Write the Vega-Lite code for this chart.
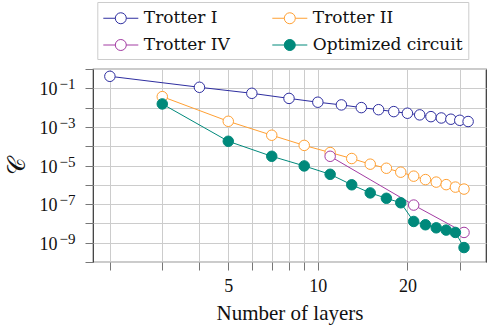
{
  "$schema": "https://vega.github.io/schema/vega-lite/v6.json",
  "width": 393,
  "height": 193,
  "autosize": {"type": "none"},
  "padding": {"left": 93, "top": 69, "right": 2, "bottom": 70},
  "background": "white",
  "config": {
    "view": {"stroke": "#333333", "strokeWidth": 1.2},
    "font": "Liberation Serif",
    "axis": {
      "labelFont": "Liberation Serif",
      "titleFont": "Liberation Serif",
      "labelColor": "#111",
      "titleColor": "#111",
      "gridColor": "#cccccc",
      "gridWidth": 1,
      "tickColor": "#777777",
      "tickSize": 8,
      "domain": false,
      "titleFontWeight": "normal"
    }
  },
  "data": {
    "values": [
      {"series": "Trotter I", "layers": 2, "c": 0.418},
      {"series": "Trotter I", "layers": 4, "c": 0.113},
      {"series": "Trotter I", "layers": 6, "c": 0.055},
      {"series": "Trotter I", "layers": 8, "c": 0.030},
      {"series": "Trotter I", "layers": 10, "c": 0.019},
      {"series": "Trotter I", "layers": 12, "c": 0.0138},
      {"series": "Trotter I", "layers": 14, "c": 0.0100},
      {"series": "Trotter I", "layers": 16, "c": 0.0078},
      {"series": "Trotter I", "layers": 18, "c": 0.0062},
      {"series": "Trotter I", "layers": 20, "c": 0.0051},
      {"series": "Trotter I", "layers": 22, "c": 0.0042},
      {"series": "Trotter I", "layers": 24, "c": 0.0034},
      {"series": "Trotter I", "layers": 26, "c": 0.0029},
      {"series": "Trotter I", "layers": 28, "c": 0.0025},
      {"series": "Trotter I", "layers": 30, "c": 0.0022},
      {"series": "Trotter I", "layers": 32, "c": 0.0019},
      {"series": "Trotter II", "layers": 3, "c": 0.037},
      {"series": "Trotter II", "layers": 5, "c": 0.00195},
      {"series": "Trotter II", "layers": 7, "c": 0.00037},
      {"series": "Trotter II", "layers": 9, "c": 0.00011},
      {"series": "Trotter II", "layers": 11, "c": 0.000047},
      {"series": "Trotter II", "layers": 13, "c": 0.000023},
      {"series": "Trotter II", "layers": 15, "c": 0.0000117},
      {"series": "Trotter II", "layers": 17, "c": 0.0000072},
      {"series": "Trotter II", "layers": 19, "c": 0.0000045},
      {"series": "Trotter II", "layers": 21, "c": 0.0000028},
      {"series": "Trotter II", "layers": 23, "c": 0.00000186},
      {"series": "Trotter II", "layers": 25, "c": 0.00000138},
      {"series": "Trotter II", "layers": 27, "c": 0.00000102},
      {"series": "Trotter II", "layers": 29, "c": 0.00000076},
      {"series": "Trotter II", "layers": 31, "c": 0.0000006},
      {"series": "Trotter IV", "layers": 11, "c": 0.00003},
      {"series": "Trotter IV", "layers": 21, "c": 0.000000089},
      {"series": "Trotter IV", "layers": 31, "c": 0.0000000034},
      {"series": "Optimized circuit", "layers": 3, "c": 0.0155},
      {"series": "Optimized circuit", "layers": 5, "c": 0.00018},
      {"series": "Optimized circuit", "layers": 7, "c": 0.00003},
      {"series": "Optimized circuit", "layers": 9, "c": 0.0000095},
      {"series": "Optimized circuit", "layers": 11, "c": 0.0000035},
      {"series": "Optimized circuit", "layers": 13, "c": 0.000001},
      {"series": "Optimized circuit", "layers": 15, "c": 0.00000038},
      {"series": "Optimized circuit", "layers": 17, "c": 0.0000002},
      {"series": "Optimized circuit", "layers": 19, "c": 0.000000117},
      {"series": "Optimized circuit", "layers": 21, "c": 0.0000000126},
      {"series": "Optimized circuit", "layers": 23, "c": 0.0000000085},
      {"series": "Optimized circuit", "layers": 25, "c": 0.0000000059},
      {"series": "Optimized circuit", "layers": 27, "c": 0.0000000045},
      {"series": "Optimized circuit", "layers": 29, "c": 0.0000000034},
      {"series": "Optimized circuit", "layers": 31, "c": 0.00000000056}
    ]
  },
  "encoding": {
    "x": {
      "field": "layers",
      "type": "quantitative",
      "scale": {"type": "log", "domain": [1.755, 36.75], "nice": false},
      "axis": {
        "values": [2, 3, 4, 5, 6, 7, 8, 9, 10, 20, 30],
        "labelExpr": "datum.value == 5 || datum.value == 10 || datum.value == 20 ? datum.value : ''",
        "labelFontSize": 18,
        "labelPadding": 7,
        "labelFlush": false,
        "title": "Number of layers",
        "titleFontSize": 21,
        "titlePadding": 7
      }
    },
    "y": {
      "field": "c",
      "type": "quantitative",
      "scale": {"type": "log", "domain": [1e-10, 1], "nice": false}
    },
    "stroke": {
      "field": "series",
      "type": "nominal",
      "scale": {
        "domain": ["Trotter I", "Trotter II", "Trotter IV", "Optimized circuit"],
        "range": ["#2e2ea0", "#ffa033", "#a33ca3", "#00897b"]
      },
      "legend": {
        "orient": "none",
        "legendX": 4.3,
        "legendY": -67,
        "title": null,
        "columns": 2,
        "direction": "horizontal",
        "labelFont": "DejaVu Serif",
        "labelFontSize": 17,
        "labelColor": "#111",
        "labelLimit": 300,
        "symbolType": "M-1.75,0L-0.55,0M0.55,0L1.75,0M0.55,0A0.55,0.55,0,1,1,-0.55,0A0.55,0.55,0,1,1,0.55,0Z",
        "symbolSize": 400,
        "symbolStrokeWidth": 1,
        "symbolOffset": 7.5,
        "labelOffset": 12.5,
        "columnPadding": 40,
        "rowPadding": 8,
        "padding": 5.5,
        "strokeColor": "#cccccc",
        "fillColor": "white",
        "encode": {
          "labels": {"update": {"font": {"value": "DejaVu Serif"}, "fontSize": {"value": 17}}},
          "symbols": {"update": {"fill": {"signal": "datum.value === 'Optimized circuit' ? '#00897b' : 'white'"}, "fillOpacity": {"value": 1}, "strokeWidth": {"value": 1}}}
        }
      }
    }
  },
  "layer": [
    {
      "mark": {"type": "line", "strokeWidth": 1},
      "encoding": {
        "y": {
          "field": "c",
          "type": "quantitative",
          "scale": {"type": "log", "domain": [1e-10, 1], "nice": false},
          "axis": {
            "values": [1e-10, 1e-9, 1e-8, 1e-7, 1e-6, 1e-5, 1e-4, 1e-3, 1e-2, 1e-1, 1],
            "labelExpr": "['','10','','10','','10','','10','','10',''][-round(log(datum.value)/LN10)]",
            "labelFontSize": 18,
            "labelPadding": 28,
            "labelOffset": 1.5,
            "labelFlush": false,
            "title": "𝒞",
            "titleFontSize": 24,
            "titlePadding": 10
          }
        },
        "strokeWidth": {
          "field": "series",
          "type": "nominal",
          "scale": {
            "domain": ["Trotter I", "Trotter II", "Trotter IV", "Optimized circuit"],
            "range": [1, 1, 1, 1.6]
          },
          "legend": null
        }
      }
    },
    {
      "mark": {"type": "point", "shape": "circle", "size": 110, "strokeWidth": 1, "opacity": 1},
      "encoding": {
        "y": {
          "field": "c",
          "type": "quantitative",
          "scale": {"type": "log", "domain": [1e-10, 1], "nice": false},
          "axis": {
            "orient": "left",
            "values": [1e-10, 1e-9, 1e-8, 1e-7, 1e-6, 1e-5, 1e-4, 1e-3, 1e-2, 1e-1, 1],
            "labelExpr": "['','−1','','−3','','−5','','−7','','−9',''][-round(log(datum.value)/LN10)]",
            "labelFontSize": 15,
            "labelPadding": 18,
            "labelOffset": -4.5,
            "labelFlush": false,
            "ticks": false,
            "grid": false,
            "title": null
          }
        },
        "fill": {
          "field": "series",
          "type": "nominal",
          "scale": {
            "domain": ["Trotter I", "Trotter II", "Trotter IV", "Optimized circuit"],
            "range": ["white", "white", "white", "#00897b"]
          },
          "legend": null
        }
      }
    }
  ],
  "resolve": {"axis": {"y": "independent"}}
}
